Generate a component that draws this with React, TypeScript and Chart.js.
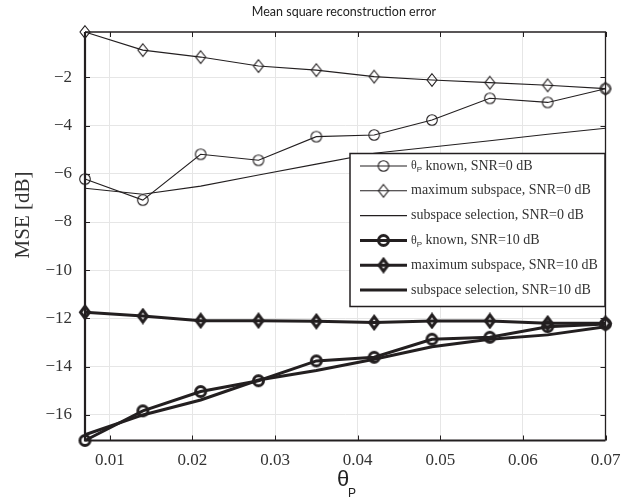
import React, { useEffect, useRef } from "react";
import { Chart, registerables } from "chart.js";
Chart.register(...registerables);

const thetaP = [0.007, 0.014, 0.021, 0.028, 0.035, 0.042, 0.049, 0.056, 0.063, 0.07];
const knownSnr0 = [-6.22, -7.09, -5.19, -5.44, -4.46, -4.39, -3.77, -2.87, -3.04, -2.47];
const maxSubSnr0 = [-0.12, -0.87, -1.16, -1.53, -1.7, -1.97, -2.11, -2.22, -2.33, -2.47];
const selSnr0 = [-6.6, -6.85, -6.51, -6.05, -5.6, -5.15, -4.89, -4.63, -4.36, -4.11];
const knownSnr10 = [-17.06, -15.83, -15.03, -14.58, -13.76, -13.61, -12.86, -12.78, -12.34, -12.23];
const maxSubSnr10 = [-11.74, -11.9, -12.09, -12.09, -12.12, -12.17, -12.1, -12.1, -12.2, -12.2];
const selSnr10 = [-16.82, -16.0, -15.38, -14.55, -14.16, -13.69, -13.17, -12.86, -12.68, -12.34];
const xTicks = [0.01, 0.02, 0.03, 0.04, 0.05, 0.06, 0.07];
const yTicks = [-16, -14, -12, -10, -8, -6, -4, -2];
const legendLabels = [
  ["θ", " known, SNR=0 dB"],
  ["", "maximum subspace, SNR=0 dB"],
  ["", "subspace selection, SNR=0 dB"],
  ["θ", " known, SNR=10 dB"],
  ["", "maximum subspace, SNR=10 dB"],
  ["", "subspace selection, SNR=10 dB"],
];

const INK = "#231f20";
const SERIF = "'Liberation Serif', 'DejaVu Serif', serif";

function circleMarker(r: number, lw: number) {
  const s = Math.ceil(2 * r + lw + 2);
  const c = document.createElement("canvas");
  c.width = s;
  c.height = s;
  const g = c.getContext("2d")!;
  g.strokeStyle = INK;
  g.lineWidth = lw;
  g.beginPath();
  g.arc(s / 2, s / 2, r, 0, Math.PI * 2);
  g.stroke();
  return c;
}
function diamondMarker(w: number, h: number, lw: number) {
  const sw = Math.ceil(w + lw + 2);
  const sh = Math.ceil(h + lw + 2);
  const c = document.createElement("canvas");
  c.width = sw;
  c.height = sh;
  const g = c.getContext("2d")!;
  g.strokeStyle = INK;
  g.lineWidth = lw;
  g.lineJoin = "miter";
  g.beginPath();
  g.moveTo(sw / 2, sh / 2 - h / 2);
  g.lineTo(sw / 2 + w / 2, sh / 2);
  g.lineTo(sw / 2, sh / 2 + h / 2);
  g.lineTo(sw / 2 - w / 2, sh / 2);
  g.closePath();
  g.stroke();
  return c;
}

export default function App() {
  const ref = useRef<HTMLCanvasElement | null>(null);
  useEffect(() => {
    const cv = ref.current!;
    const mC0 = circleMarker(5.3, 1.1);
    const mD0 = diamondMarker(10, 12.5, 1.1);
    const mC10 = circleMarker(5, 3);
    const mD10 = diamondMarker(9, 12, 3);
    const styles = [
      { w: 1.1, m: mC0 },
      { w: 1.1, m: mD0 },
      { w: 1.1, m: null },
      { w: 3, m: mC10 },
      { w: 3, m: mD10 },
      { w: 3, m: null },
    ];
    const series = [knownSnr0, maxSubSnr0, selSnr0, knownSnr10, maxSubSnr10, selSnr10];
    const datasets = series.map((s, i) => ({
      label: legendLabels[i].join(""),
      data: s.map((v, j) => ({ x: thetaP[j], y: v })),
      borderColor: INK,
      backgroundColor: INK,
      borderWidth: styles[i].w,
      pointStyle: (styles[i].m || false) as any,
      pointRadius: styles[i].m ? 6 : 0,
      tension: 0,
      clip: false as any,
      fill: false,
    }));

    const deco = {
      id: "deco",
      beforeDatasetsDraw(chart: any) {
        const { ctx, chartArea: a } = chart;
        const xs = chart.scales.x;
        const ys = chart.scales.y;
        ctx.save();
        ctx.strokeStyle = INK;
        ctx.lineWidth = 1;
        for (const t of xTicks) {
          const px = Math.round(xs.getPixelForValue(t)) + 0.5;
          ctx.beginPath();
          ctx.moveTo(px, a.bottom);
          ctx.lineTo(px, a.bottom - 5);
          ctx.moveTo(px, a.top);
          ctx.lineTo(px, a.top + 5);
          ctx.stroke();
        }
        for (const t of yTicks) {
          const py = Math.round(ys.getPixelForValue(t)) + 0.5;
          ctx.beginPath();
          ctx.moveTo(a.left, py);
          ctx.lineTo(a.left + 5, py);
          ctx.moveTo(a.right, py);
          ctx.lineTo(a.right - 5, py);
          ctx.stroke();
        }
        ctx.lineWidth = 1.3;
        ctx.beginPath();
        ctx.moveTo(a.left, a.top);
        ctx.lineTo(a.right, a.top);
        ctx.lineTo(a.right, a.bottom);
        ctx.stroke();
        ctx.lineWidth = 2.2;
        ctx.beginPath();
        ctx.moveTo(a.left, a.top);
        ctx.lineTo(a.left, a.bottom);
        ctx.lineTo(a.right, a.bottom);
        ctx.stroke();
        ctx.restore();
      },
      afterDatasetsDraw(chart: any) {
        const { ctx } = chart;
        ctx.save();
        const bx = 350, by = 153.5, bw = 255, bh = 153;
        ctx.fillStyle = "#fff";
        ctx.fillRect(bx, by, bw, bh);
        ctx.strokeStyle = INK;
        ctx.lineWidth = 1.5;
        ctx.strokeRect(bx, by, bw, bh);
        for (let i = 0; i < 6; i++) {
          const y = 166 + i * 24.8;
          const st = styles[i];
          ctx.strokeStyle = INK;
          ctx.lineWidth = st.w;
          ctx.beginPath();
          ctx.moveTo(360, y);
          ctx.lineTo(407, y);
          ctx.stroke();
          if (st.m) {
            ctx.drawImage(st.m, 383.5 - st.m.width / 2, y - st.m.height / 2);
          }
          ctx.fillStyle = "#333";
          ctx.textBaseline = "middle";
          ctx.textAlign = "left";
          let x = 411;
          const [pre, rest] = legendLabels[i];
          if (pre) {
            ctx.font = "12px " + SERIF;
            ctx.fillText(pre, x, y);
            x += ctx.measureText(pre).width;
            ctx.font = "8px 'Liberation Sans'";
            ctx.fillText("P", x, y + 4);
            x += ctx.measureText("P").width;
          }
          ctx.font = "14px " + SERIF;
          ctx.fillText(rest, x, y);
        }
        ctx.restore();
      },
      afterDraw(chart: any) {
        const { ctx, chartArea: a } = chart;
        const xs = chart.scales.x;
        const ys = chart.scales.y;
        ctx.save();
        ctx.fillStyle = "#333";
        ctx.font = "17px " + SERIF;
        ctx.textAlign = "center";
        ctx.textBaseline = "middle";
        for (const t of xTicks) {
          ctx.fillText(t.toFixed(2), xs.getPixelForValue(t), a.bottom + 20);
        }
        ctx.textAlign = "right";
        for (const t of yTicks) {
          ctx.fillText(String(t).replace("-", "\u2212"), a.left - 13, ys.getPixelForValue(t));
        }
        ctx.fillStyle = "#222";
        ctx.textAlign = "center";
        ctx.font = "12.5px Lato";
        ctx.fillText("Mean square reconstruction error", 344, 12);
        ctx.font = "21px " + SERIF;
        ctx.fillStyle = "#333";
        ctx.translate(23, 215);
        ctx.rotate(-Math.PI / 2);
        ctx.fillText("MSE [dB]", 0, 0);
        ctx.restore();
        ctx.save();
        ctx.fillStyle = "#222";
        ctx.textBaseline = "middle";
        ctx.textAlign = "center";
        ctx.font = "22px 'Liberation Sans'";
        ctx.fillText("θ", 343, 480);
        ctx.font = "12px 'Liberation Sans'";
        ctx.fillText("P", 352, 494);
        ctx.restore();
      },
    };

    const chart = new Chart(cv, {
      type: "line",
      data: { datasets: datasets as any },
      options: {
        animation: false,
        responsive: false,
        maintainAspectRatio: false,
        layout: { padding: { top: 32, right: 29.5, left: 0, bottom: 0 } },
        plugins: { legend: { display: false }, tooltip: { enabled: false }, title: { display: false } },
        scales: {
          x: {
            type: "linear",
            min: 0.007,
            max: 0.07,
            afterBuildTicks: (s: any) => {
              s.ticks = xTicks.map((v) => ({ value: v }));
            },
            afterFit: (s: any) => {
              s.height = 59.5;
            },
            grid: { color: "#e6e6e6", lineWidth: 1, drawTicks: false },
            border: { display: false },
            ticks: { display: false, autoSkip: false },
          },
          y: {
            type: "linear",
            min: -17.06,
            max: -0.12,
            afterBuildTicks: (s: any) => {
              s.ticks = yTicks.map((v) => ({ value: v }));
            },
            afterFit: (s: any) => {
              s.width = 85;
            },
            grid: { color: "#e6e6e6", lineWidth: 1, drawTicks: false },
            border: { display: false },
            ticks: { display: false, autoSkip: false },
          },
        },
      },
      plugins: [deco],
    });
    return () => chart.destroy();
  }, []);
  return (
    <div style={{ position: "fixed", left: 0, top: 0, width: 635, height: 500, background: "#fff" }}>
      <canvas ref={ref} width={635} height={500} style={{ width: 635, height: 500, display: "block" }} />
    </div>
  );
}
